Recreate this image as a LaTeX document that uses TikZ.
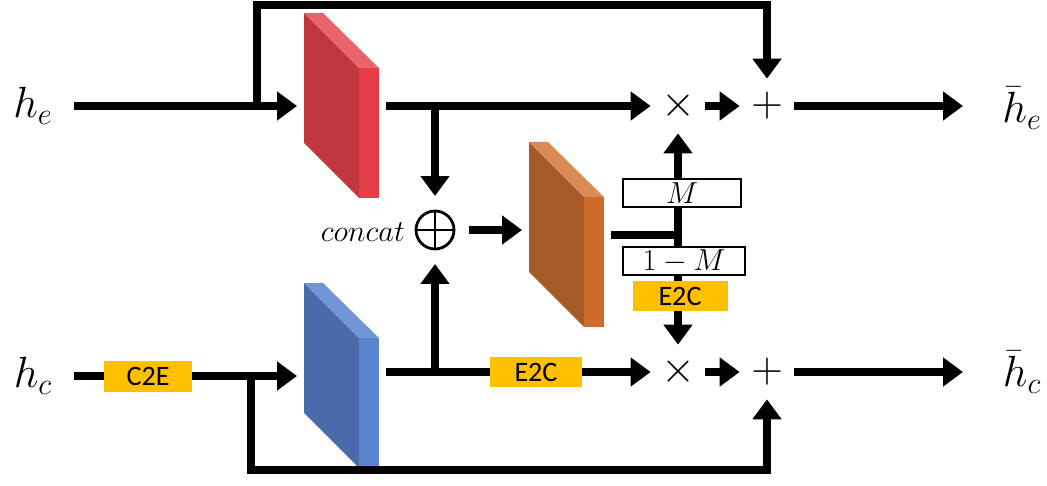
\documentclass[tikz,border=0pt]{standalone}
\usepackage{fontspec}
\newfontfamily\tagfont{Carlito}
\usetikzlibrary{arrows.meta}

\definecolor{redfront}{HTML}{C1373F}
\definecolor{redside}{HTML}{E53D47}
\definecolor{redtop}{HTML}{E9646C}
\definecolor{bluefront}{HTML}{4A6AAB}
\definecolor{blueside}{HTML}{5B85CF}
\definecolor{bluetop}{HTML}{7096D6}
\definecolor{orangefront}{HTML}{A55A27}
\definecolor{orangeside}{HTML}{CD6C2A}
\definecolor{orangetop}{HTML}{D98B56}
\definecolor{tagyellow}{HTML}{FFC000}

% 3d slab: name, top-left corner, front, side, top colour
\newcommand{\slab}[5]{%
  \fill[#3] #2 -- ++(55,55) -- ++(0,130) -- ++(-55,-55) -- cycle;
  \fill[#4] #2 ++(55,55) -- ++(20,0) -- ++(0,130) -- ++(-20,0) -- cycle;
  \fill[#5] #2 -- ++(19,0) -- ++(56,55) -- ++(-20,0) -- cycle;
  \path #2 ++(37.5,92.5) node[slab] (#1) {};
}

\begin{document}
\begin{tikzpicture}[
    x=0.02cm, y=-0.02cm,
    line/.style={line width=5pt},
    arrow/.style={line width=5pt, -{Triangle[length=0.4cm, width=0.56cm]}},
    slab/.style={rectangle, inner sep=0, minimum width=1.5cm, minimum height=3.7cm, outer xsep=0.14cm, outer ysep=0},
    var/.style={font=\fontsize{26}{30}\selectfont, inner ysep=0},
    op/.style={circle, inner sep=0, minimum size=1.08cm, font=\fontsize{28}{30}\selectfont},
    tag/.style={fill=tagyellow, inner sep=0, minimum height=0.62cm, font=\tagfont\fontsize{16}{18}\selectfont},
    mask/.style={draw, fill=white, line width=0.8pt, inner sep=0, minimum height=0.56cm, font=\fontsize{17}{18}\selectfont}
]
\useasboundingbox (0,0) rectangle (1047,486);

% Inputs and outputs
\node[var, inner xsep=12pt] (he) at (33,106) {$h_e$};
\node[var, inner xsep=12pt] (hc) at (33,376) {$h_c$};
\node[var, inner xsep=2pt] (hbe) at (1022,108) {$\bar{h}_e$};
\node[var, inner xsep=2pt] (hbc) at (1022,372) {$\bar{h}_c$};
\coordinate (oute) at (963,106);
\coordinate (outc) at (963,372);

% Blocks
\slab{enc}{(304,13)}{redfront}{redside}{redtop}
\slab{blk}{(304,283)}{bluefront}{blueside}{bluetop}
\slab{fuse}{(529,142)}{orangefront}{orangeside}{orangetop}

% Operators
\node[op] (mule) at (678,106) {$\times$};
\node[op] (adde) at (767,106) {$+$};
\node[op] (mulc) at (678,372) {$\times$};
\node[op] (addc) at (767,372) {$+$};
\node[draw, circle, line width=1.6pt, minimum size=0.76cm, outer sep=0.3cm,
  path picture={\draw[line width=1.6pt] (path picture bounding box.north) -- (path picture bounding box.south)
    (path picture bounding box.east) -- (path picture bounding box.west);}] (cat) at (435,230) {};
\node[font=\fontsize{16}{18}\selectfont, anchor=east] (catlab) at (411,232) {$concat$};

\coordinate (se) at (257,106);
\coordinate (sc) at (251,376);
\coordinate (be) at (435,106);
\coordinate (bc) at (435,372);
\coordinate (gate) at (678,235);

% Connections
\draw[arrow] (he) -- (he -| enc.west);
\draw[arrow] (se) -- ++(0,-101) -| (adde);
\draw[arrow] (enc.east |- mule) -- (mule);
\draw[arrow] (be) -- (cat);
\draw[arrow] (mule) -- (adde);
\draw[arrow] (adde) -- (oute);

\draw[arrow] (hc) -- (hc -| blk.west);
\draw[arrow] (sc) -- ++(0,94) -| (addc);
\draw[arrow] (blk.east |- mulc) -- (mulc);
\draw[arrow] (bc) -- (cat);
\draw[arrow] (mulc) -- (addc);
\draw[arrow] (addc) -- (outc);

\draw[arrow] (cat) -- (cat -| fuse.west);
\draw[line] (fuse.east |- gate) -- (gate);
\draw[arrow] (gate) -- (mule);
\draw[arrow] (gate) -- (mulc);

% Gates and converters
\node[mask, minimum width=2.36cm] (mbox) at (682,193) {$M$};
\node[mask, minimum width=2.44cm] (nmbox) at (684,261) {$1-M$};
\node[tag, minimum width=1.9cm] (e2cg) at (680,296) {E2C};
\node[tag, minimum width=1.84cm] (e2cb) at (536,372) {E2C};
\node[tag, minimum width=1.78cm] (c2e) at (148,376) {C2E};

\end{tikzpicture}
\end{document}
